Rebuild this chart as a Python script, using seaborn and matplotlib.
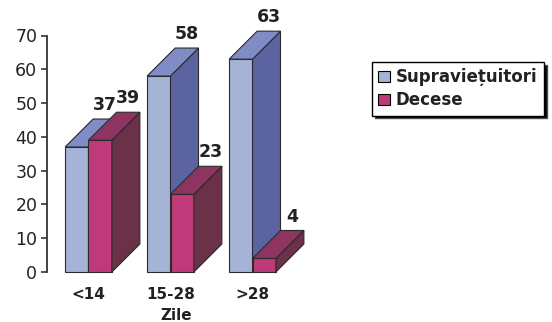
import matplotlib
matplotlib.use("Agg")
import numpy as np
import pandas as pd
import seaborn as sns
import matplotlib.pyplot as plt
from matplotlib.patches import Polygon, Patch

# ---- data ----
categories = ["<14", "15-28", ">28"]
supravietuitori = [37, 58, 63]
decese = [39, 23, 4]
series_names = ["Supraviețuitori", "Decese"]
y_ticks = [0, 10, 20, 30, 40, 50, 60, 70]
x_label = "Zile"

df = pd.DataFrame({
    "Zile": categories * 2,
    "Valoare": supravietuitori + decese,
    "Serie": [series_names[0]] * len(categories) + [series_names[1]] * len(categories),
})

# ---- styles ----
front_colors = ["#A4B3D6", "#BE3A78"]
side_colors = ["#5B63A0", "#6A3149"]
top_colors = ["#7F8CC6", "#8E3460"]
edge = "#2b2b2b"
depth_px = 28

sns.set_style("white")
plt.rcParams["font.family"] = ["DejaVu Sans"]

fig = plt.figure(figsize=(5.52, 3.22), dpi=100)
ax = fig.add_axes([47 / 552, 50 / 322, 258 / 552, 236.5 / 322])
sns.barplot(data=df, x="Zile", y="Valoare", hue="Serie", order=categories,
            hue_order=series_names, palette=front_colors, saturation=1,
            width=0.57, edgecolor=edge, linewidth=0.8, legend=False, ax=ax)
ax.set_xlim(-0.506, 2.64)
ax.set_ylim(0, 70)

# pixel depth -> data units
o = ax.transData.transform((0, 0))
sx = ax.transData.transform((1, 0))[0] - o[0]
sy = ax.transData.transform((0, 1))[1] - o[1]
ddx, ddy = depth_px / sx, depth_px / sy

for i, cont in enumerate(ax.containers):
    for bar in cont:
        x0 = bar.get_x()
        w = bar.get_width()
        x1 = x0 + w
        h = bar.get_height()
        bar.set_zorder(2 + 2 * i)
        bar.set_clip_on(False)
        side = Polygon([(x1, 0), (x1, h), (x1 + ddx, h + ddy), (x1 + ddx, ddy)],
                       closed=True, facecolor=side_colors[i], edgecolor=edge,
                       linewidth=0.8, zorder=2.5 + 2 * i, clip_on=False)
        top = Polygon([(x0, h), (x1, h), (x1 + ddx, h + ddy), (x0 + ddx, h + ddy)],
                      closed=True, facecolor=top_colors[i], edgecolor=edge,
                      linewidth=0.8, zorder=2.5 + 2 * i, clip_on=False)
        ax.add_patch(side)
        ax.add_patch(top)
        ax.annotate(f"{h:g}", (x0 + w / 2 + ddx, h + ddy), xytext=(0, 3.5),
                    textcoords="offset points", ha="center", va="bottom",
                    fontsize=12.5, fontweight="bold", color="#222222",
                    zorder=10, annotation_clip=False)

for s in ["top", "right", "bottom"]:
    ax.spines[s].set_visible(False)
ax.spines["left"].set_bounds(0, 70)
ax.spines["left"].set_color("#333333")
ax.spines["left"].set_linewidth(1.3)
ax.set_yticks(y_ticks)
ax.tick_params(axis="y", length=4, width=1.2, pad=3, labelsize=12.5,
               color="#333333", labelcolor="#222222", left=True)
ax.tick_params(axis="x", length=0, pad=11, labelsize=11, labelcolor="#222222")
for t in ax.get_xticklabels():
    t.set_fontweight("bold")
ax.set_xlabel(x_label, fontsize=11, fontweight="bold", color="#222222", labelpad=4)
ax.set_ylabel("")
ax.grid(False)

handles = [Patch(facecolor=c, edgecolor="black", linewidth=0.8) for c in front_colors]
leg = fig.legend(handles, series_names, loc="upper left",
                 bbox_to_anchor=(372 / 552, 1 - 62 / 322), frameon=True,
                 fancybox=False, shadow={"facecolor": "black", "alpha": 1},
                 edgecolor="black", prop={"weight": "bold", "size": 12},
                 handlelength=0.7, handleheight=0.7, handletextpad=0.35,
                 borderpad=0.38, labelspacing=0.3, borderaxespad=0)
leg.get_frame().set_linewidth(1.0)
for t in leg.get_texts():
    t.set_color("#222222")

fig.savefig("out.png", dpi=100)
